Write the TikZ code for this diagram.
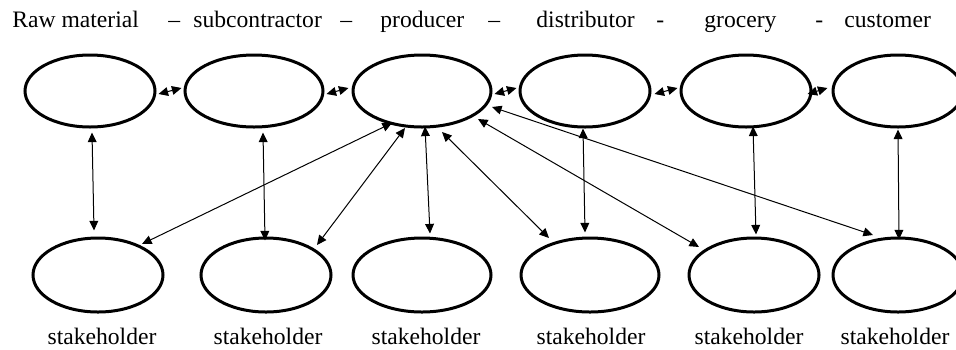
\documentclass[tikz,border=0pt]{standalone}
\usepackage{fontspec}
\setmainfont{Liberation Serif}
\usetikzlibrary{shapes.geometric,arrows.meta}
\begin{document}
\begin{tikzpicture}[x=0.5pt,y=-0.5pt,
  oval/.style={draw,ellipse,line width=1.5pt,inner sep=0pt},
  topn/.style={oval,minimum width=65pt,minimum height=36pt},
  topw/.style={oval,minimum width=69pt,minimum height=36pt},
  botn/.style={oval,minimum width=65pt,minimum height=37pt},
  botw/.style={oval,minimum width=69pt,minimum height=37pt},
  link/.style={line width=0.5pt,{Triangle[length=4.8pt,width=4.4pt]}-{Triangle[length=4.8pt,width=4.4pt]}},
  lab/.style={inner sep=0pt,font=\fontsize{11.8}{14}\selectfont}]
\useasboundingbox (0,0) rectangle (956,349);
\clip (0,0) rectangle (956,349);
% top labels
\node[lab,anchor=base west] (t1) at (12,27) {Raw material};
\node[lab,anchor=base west] (d1) at (168,27) {–};
\node[lab,anchor=base west] (t2) at (193,27) {subcontractor};
\node[lab,anchor=base west] (d2) at (340,27) {–};
\node[lab,anchor=base west] (t3) at (380,27) {producer};
\node[lab,anchor=base west] (d3) at (488,27) {–};
\node[lab,anchor=base west] (t4) at (536,27) {distributor};
\node[lab,anchor=base west] (d4) at (656,27) {-};
\node[lab,anchor=base west] (t5) at (704,27) {grocery};
\node[lab,anchor=base west] (d5) at (815,27) {-};
\node[lab,anchor=base west] (t6) at (844,27) {customer};
% top ellipses
\node[topn] (e1) at (90,91) {};
\node[topw] (e2) at (254,91) {};
\node[topw] (e3) at (422,91) {};
\node[topn] (e4) at (585,91) {};
\node[topn] (e5) at (746,91) {};
\node[topn] (e6) at (898,91) {};
% bottom ellipses
\node[botn] (b1) at (98,275) {};
\node[botn] (b2) at (266,275) {};
\node[botw] (b3) at (422,275) {};
\node[botw] (b4) at (590,275) {};
\node[botn] (b5) at (754,275) {};
\node[botn] (b6) at (898,275) {};
% bottom labels
\foreach \n/\x in {s1/102,s2/268,s3/426,s4/591,s5/749,s6/895}
  \node[lab,anchor=base] (\n) at (\x,344) {stakeholder};
% horizontal links
\draw[link] ([shift={(2,3)}]e1.east) -- ([shift={(-2,-3)}]e2.west);
\draw[link] ([shift={(2,3)}]e2.east) -- ([shift={(-3,-3)}]e3.west);
\draw[link] ([shift={(2,3)}]e3.east) -- ([shift={(-2,-3)}]e4.west);
\draw[link] ([shift={(3,3)}]e4.east) -- ([shift={(-2,-3)}]e5.west);
\draw[link] ([shift={(-5,3)}]e5.east) -- ([shift={(-4,-3)}]e6.west);
% vertical links
\draw[link] ([shift={(2,4)}]e1.south) -- ([shift={(-4,-6)}]b1.north);
\draw[link] ([shift={(9,4)}]e2.south) -- ([shift={(-1,4)}]b2.north);
\draw[link] ([shift={(3,-2)}]e3.south) -- ([shift={(8,-3)}]b3.north);
\draw[link] ([shift={(-2,0)}]e4.south) -- ([shift={(-5,-4)}]b4.north);
\draw[link] ([shift={(7,-2)}]e5.south) -- ([shift={(2,-2)}]b5.north);
\draw[link] ([shift={(0,1)}]e6.south) -- ([shift={(1,3)}]b6.north);
% diagonal links from producer
\draw[link] ([shift={(-30,32)}]e3.center) -- ([shift={(44,-31)}]b1.center);
\draw[link] ([shift={(-17,37)}]e3.center) -- ([shift={(51,-30)}]b2.center);
\draw[link] ([shift={(20,41)}]e3.center) -- ([shift={(-41,-37)}]b4.center);
\draw[link] ([shift={(56,28)}]e3.center) -- ([shift={(-55,-28)}]b5.center);
\draw[link] ([shift={(70,16)}]e3.center) -- ([shift={(-25,-40)}]b6.center);
\end{tikzpicture}
\end{document}
